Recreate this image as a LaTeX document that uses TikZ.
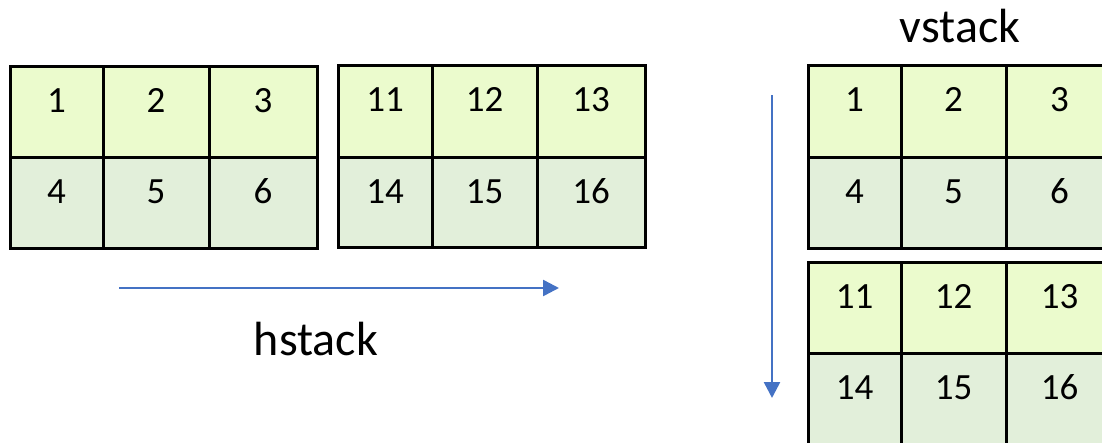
\documentclass[tikz,border=0pt]{standalone}
\usepackage{fontspec}
\setmainfont{Carlito}
\usetikzlibrary{arrows.meta,calc}
\definecolor{topc}{HTML}{EBFBCD}
\definecolor{botc}{HTML}{E2EFDA}
\definecolor{arrc}{HTML}{4472C4}
\tikzset{
  cell/.style={draw=black, line width=3pt, inner sep=0pt, outer sep=0pt, rectangle},
  num/.style={anchor=base, inner sep=0pt, font=\fontsize{37}{40}\selectfont},
  lbl/.style={anchor=base, inner sep=0pt, font=\fontsize{48}{52}\selectfont},
  arr/.style={draw=arrc, line width=2.5pt, -{Triangle[length=16pt,width=16pt]}}
}
\begin{document}
\begin{tikzpicture}[x=1pt,y=-1pt]
\useasboundingbox (0,0) rectangle (1102,442);
\clip (0,0) rectangle (1102,442);
\foreach \n/\xa/\xb/\ya/\yb/\t/\c in {
  a1/10/103/66/157/1/topc, a2/103/209/66/157/2/topc, a3/209/317/66/157/3/topc,
  a4/10/103/157/248/4/botc, a5/103/209/157/248/5/botc, a6/209/317/157/248/6/botc,
  b1/338/432/65/157/11/topc, b2/432/537/65/157/12/topc, b3/537/645/65/157/13/topc,
  b4/338/432/157/247/14/botc, b5/432/537/157/247/15/botc, b6/537/645/157/247/16/botc,
  c1/808/901/65/157/1/topc, c2/901/1006/65/157/2/topc, c3/1006/1113/65/157/3/topc,
  c4/808/901/157/248/4/botc, c5/901/1006/157/248/5/botc, c6/1006/1113/157/248/6/botc,
  d1/808/901/262/353/11/topc, d2/901/1006/262/353/12/topc, d3/1006/1113/262/353/13/topc,
  d4/808/901/353/444/14/botc, d5/901/1006/353/444/15/botc, d6/1006/1113/353/444/16/botc}
{
  \node[cell, fill=\c, minimum width={(\xb-\xa)*1pt}, minimum height={(\yb-\ya)*1pt}]
    (\n) at ({(\xa+\xb)/2},{(\ya+\yb)/2}) {};
  \node[num] (\n t) at ($(\n.north)+(0,46)$) {\t};
}
\coordinate (hs) at (119,288);
\coordinate (he) at (559,288);
\draw[arr] (hs) -- (he);
\coordinate (vs) at (772,95);
\coordinate (ve) at (772,398);
\draw[arr] (vs) -- (ve);
\node[lbl] (hlabel) at (316,355) {hstack};
\node[lbl] (vlabel) at (960,42) {vstack};
\end{tikzpicture}
\end{document}
